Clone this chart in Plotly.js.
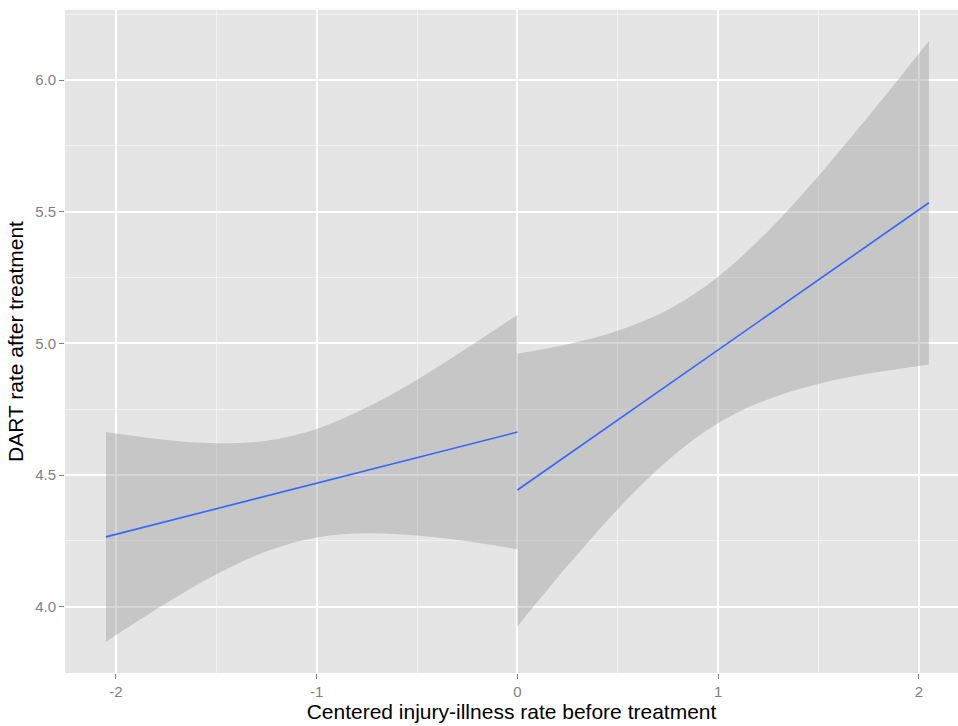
<!DOCTYPE html>
<html>
<head>
<meta charset="utf-8">
<script src="https://cdn.plot.ly/plotly-3.0.1.min.js"></script>
<style>html,body{margin:0;padding:0;background:#fff;}#chart{width:958px;height:726px;}</style>
</head>
<body>
<div id="chart"></div>
<script>
// Segment before 0 (left)
const leftX     = [-2.05, -1.75, -1.5, -1.25, -1.0, -0.75, -0.5, -0.25, 0.0];
const leftFit   = [4.265, 4.323, 4.372, 4.420, 4.469, 4.518, 4.566, 4.615, 4.663];
const leftUpper = [4.663, 4.633, 4.621, 4.630, 4.675, 4.757, 4.862, 4.982, 5.108];
const leftLower = [3.867, 4.013, 4.123, 4.210, 4.263, 4.279, 4.270, 4.248, 4.218];

// Segment after 0 (right)
const rightX     = [0.0, 0.25, 0.5, 0.75, 1.0, 1.25, 1.5, 1.75, 2.05];
const rightFit   = [4.443, 4.576, 4.709, 4.842, 4.975, 5.108, 5.241, 5.374, 5.534];
const rightUpper = [4.961, 4.997, 5.048, 5.128, 5.253, 5.428, 5.636, 5.863, 6.148];
const rightLower = [3.925, 4.155, 4.370, 4.556, 4.697, 4.788, 4.846, 4.885, 4.920];

const xTicks = [-2, -1, 0, 1, 2];
const yTicks = [4.0, 4.5, 5.0, 5.5, 6.0];
const yTickText = ['4.0', '4.5', '5.0', '5.5', '6.0'];

function band(xs, ys, fill) {
  return {
    x: xs, y: ys, type: 'scatter', mode: 'lines',
    line: {width: 0, shape: 'spline', smoothing: 1},
    fill: fill ? 'tonexty' : 'none',
    fillcolor: 'rgba(153,153,153,0.4)',
    hoverinfo: 'skip', showlegend: false
  };
}
function fitLine(xs, ys) {
  return {x: xs, y: ys, type: 'scatter', mode: 'lines',
    line: {color: '#3366FF', width: 1.6}, showlegend: false};
}

const data = [
  band(leftX, leftLower, false),
  band(leftX, leftUpper, true),
  band(rightX, rightLower, false),
  band(rightX, rightUpper, true),
  fitLine(leftX, leftFit),
  fitLine(rightX, rightFit)
];

const layout = {
  width: 958, height: 726,
  margin: {l: 65, r: 0, t: 10, b: 53},
  paper_bgcolor: '#FFFFFF',
  plot_bgcolor: '#E5E5E5',
  font: {family: 'Liberation Sans, Arial, sans-serif'},
  showlegend: false,
  xaxis: {
    range: [-2.254, 2.195],
    tickvals: xTicks, ticktext: xTicks.map(String),
    showgrid: true, gridcolor: '#FFFFFF', gridwidth: 2,
    minor: {dtick: 0.5, tick0: 0.5, showgrid: true, gridcolor: '#F2F2F2', gridwidth: 1},
    zeroline: false, showline: false,
    ticks: 'outside', ticklen: 5, tickwidth: 1, tickcolor: '#7F7F7F',
    tickfont: {size: 15, color: '#7F7F7F'},
    title: {text: 'Centered injury-illness rate before treatment', font: {size: 21, color: '#000000'}, standoff: 5}
  },
  yaxis: {
    range: [3.748, 6.266],
    tickvals: yTicks, ticktext: yTickText,
    showgrid: true, gridcolor: '#FFFFFF', gridwidth: 2,
    minor: {dtick: 0.25, tick0: 4.25, showgrid: true, gridcolor: '#F2F2F2', gridwidth: 1},
    zeroline: false, showline: false,
    ticks: 'outside', ticklen: 5, tickwidth: 1, tickcolor: '#7F7F7F',
    tickfont: {size: 15, color: '#7F7F7F'},
    title: {text: 'DART rate after treatment', font: {size: 21, color: '#000000'}, standoff: 5}
  }
};

Plotly.newPlot('chart', data, layout, {displayModeBar: false, staticPlot: true});
</script>
</body>
</html>
